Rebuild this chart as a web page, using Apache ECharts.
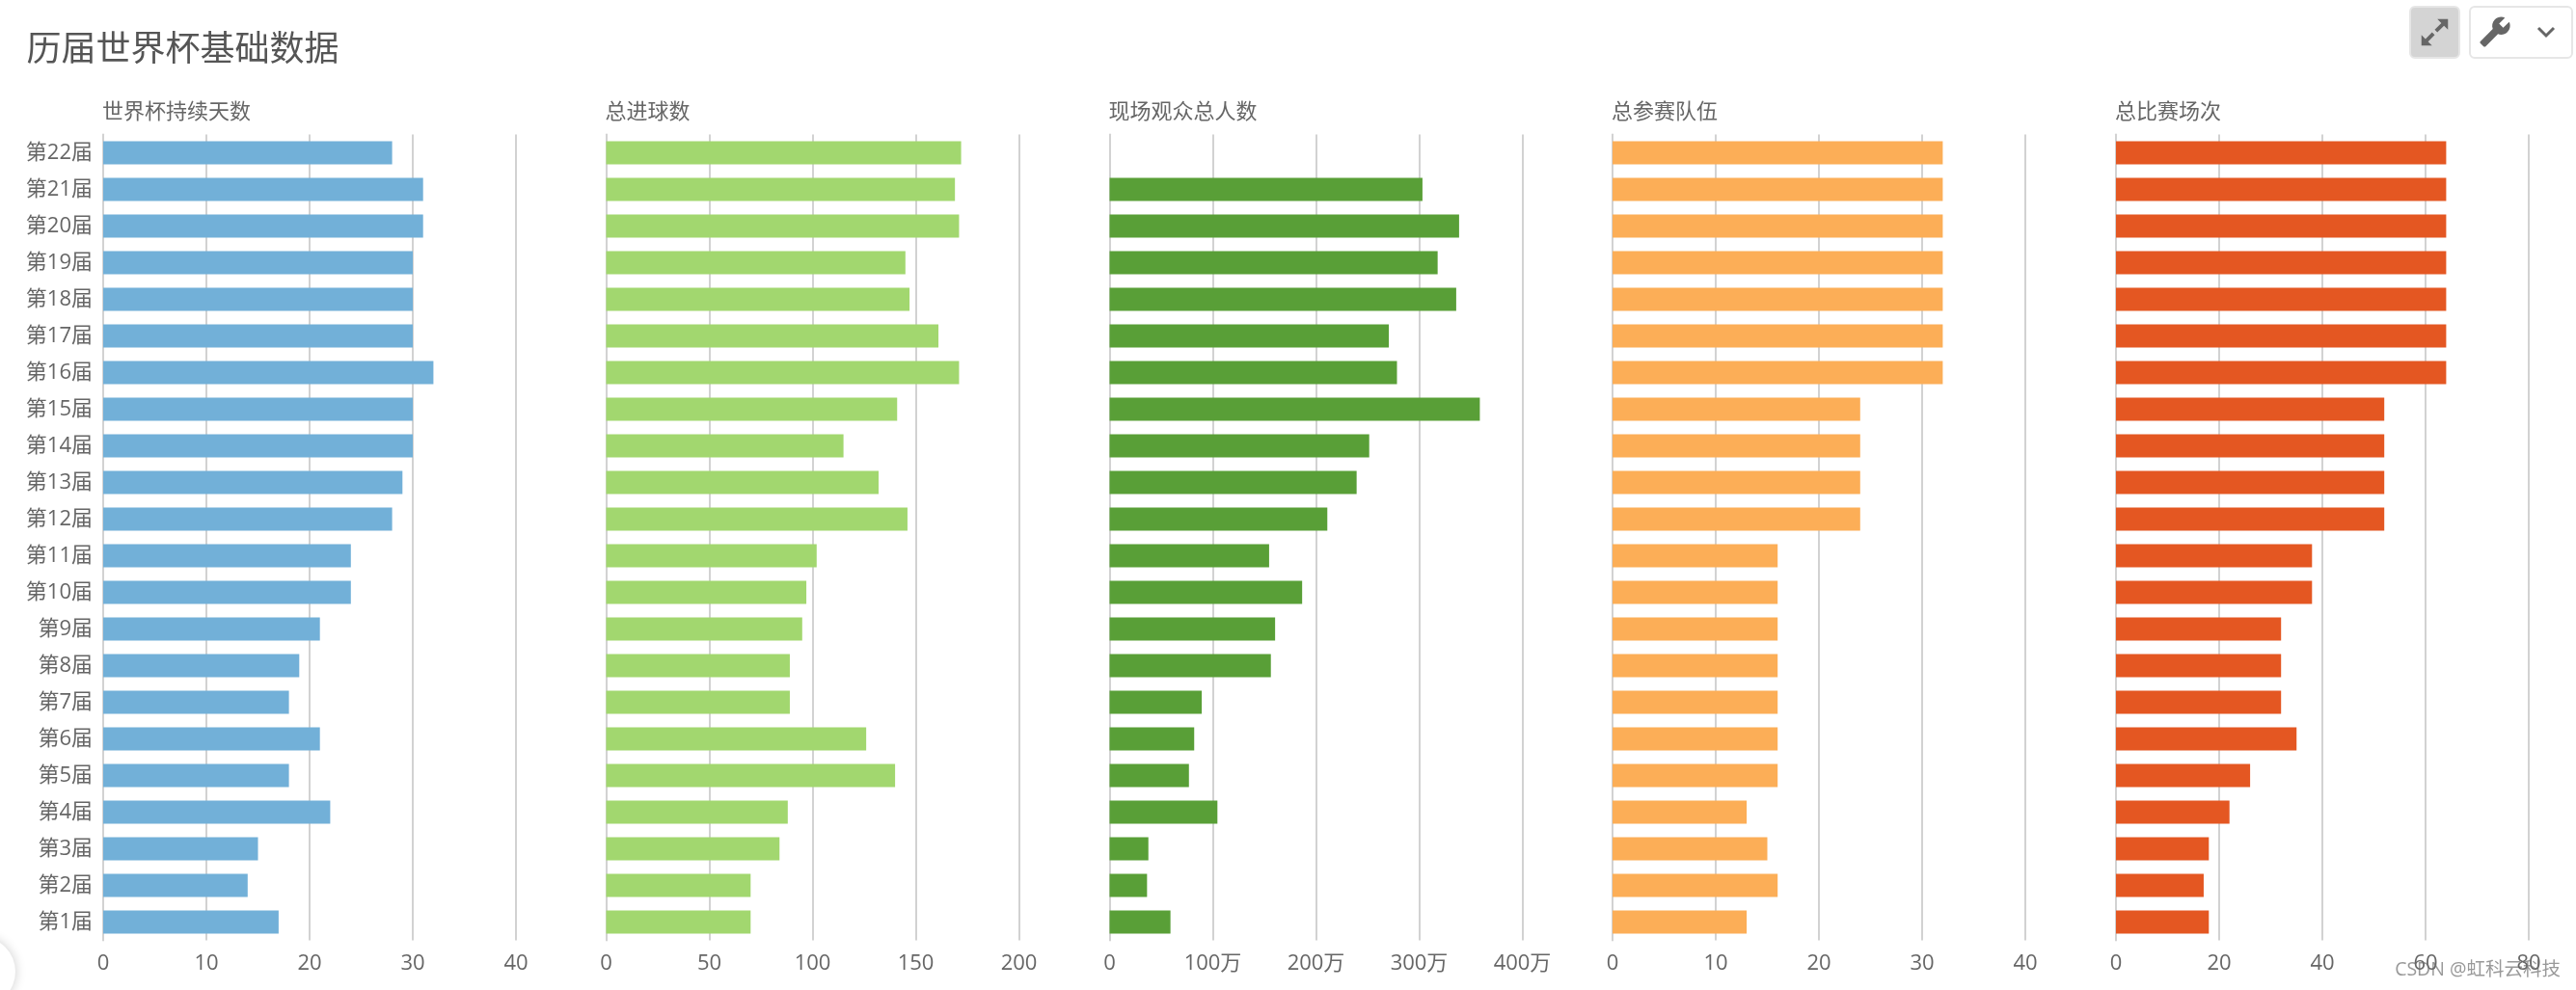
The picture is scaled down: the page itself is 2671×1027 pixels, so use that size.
<html>
<head>
    <meta charset="utf-8">
    <title>历届世界杯基础数据</title>
    <script src="https://cdn.jsdelivr.net/npm/echarts@6/dist/echarts.min.js"></script>
    <style>
        body { margin: 0; background: #fff; }
        .btn { position: absolute; top: 6px; height: 51px; box-sizing: content-box; border: 2px solid #e6e6e6; border-radius: 6px; }
        .btn svg { position: absolute; fill: #666; }
    </style>
</head>
<body>
<div style="width: 2671px; height: 1027px;" id="main"></div>
<!-- 右上角按钮 -->
<div class="btn" style="left: 2498px; width: 49px; background: #d4d4d4;">
    <svg style="left: 8px; top: 9px;" width="33" height="33" viewBox="0 0 24 24"><path d="M14 2h8v8l-3-3-5 5-2-2 5-5zM10 22H2v-8l3 3 5-5 2 2-5 5z"/></svg>
</div>
<div class="btn" style="left: 2560px; width: 104px; background: #fff;">
    <svg style="left: 8px; top: 8px; transform: scaleX(-1);" width="34" height="34" viewBox="0 0 24 24"><path d="M22.7 19l-9.1-9.1c.9-2.3.4-5-1.5-6.9-2-2-5-2.4-7.4-1.3L9 6 6 9 1.6 4.7C.4 7.1.9 10.1 2.9 12.1c1.9 1.9 4.6 2.4 6.9 1.5l9.1 9.1c.4.4 1 .4 1.4 0l2.3-2.3c.5-.4.5-1.1.1-1.4z"/></svg>
    <svg style="left: 68px; top: 19px; fill: none; stroke: #666; stroke-width: 3;" width="20" height="14" viewBox="0 0 20 14"><path d="M2 2l8 8 8-8"/></svg>
</div>
<script type="text/javascript">
// 数据,从第1届到第22届
var editions = ['第1届', '第2届', '第3届', '第4届', '第5届', '第6届', '第7届', '第8届', '第9届', '第10届', '第11届',
    '第12届', '第13届', '第14届', '第15届', '第16届', '第17届', '第18届', '第19届', '第20届', '第21届', '第22届'];
var days = [17, 14, 15, 22, 18, 21, 18, 19, 21, 24, 24, 28, 29, 30, 30, 32, 30, 30, 30, 31, 31, 28];
var goals = [70, 70, 84, 88, 140, 126, 89, 89, 95, 97, 102, 146, 132, 115, 141, 171, 161, 147, 145, 171, 169, 172];
var audience = [590000, 363000, 376000, 1045000, 769000, 820000, 893000, 1563000, 1604000, 1866000, 1546000,
    2110000, 2394000, 2516000, 3588000, 2785000, 2706000, 3359000, 3179000, 3387000, 3032000, null];
var teams = [13, 16, 15, 13, 16, 16, 16, 16, 16, 16, 16, 24, 24, 24, 24, 32, 32, 32, 32, 32, 32, 32];
var matches = [18, 17, 18, 22, 26, 35, 32, 32, 32, 38, 38, 52, 52, 52, 52, 64, 64, 64, 64, 64, 64, 64];

var panelNames = ['世界杯持续天数', '总进球数', '现场观众总人数', '总参赛队伍', '总比赛场次'];
var panelValues = [days, goals, audience, teams, matches];
var panelMax = [40, 200, 4000000, 40, 80];
var panelInterval = [10, 50, 1000000, 10, 20];
var panelColors = ['#72b0d8', '#a2d76f', '#599f37', '#fcae57', '#e45722'];
var panelLefts = [107, 628.5, 1150.5, 1672, 2194];

var font = '"Open Sans", "Noto Sans CJK SC", sans-serif';
var gridWidth = 428, gridTop = 139.5, gridHeight = 836;

var myChart = echarts.init(document.getElementById('main'));

var titles = [{
    text: '历届世界杯基础数据',
    left: 22.5, top: 30,
    textStyle: { fontFamily: font, fontSize: 36, fontWeight: 'normal', color: '#555' }
}];
var grids = [], xAxes = [], yAxes = [], series = [];

panelNames.forEach(function (name, i) {
    titles.push({
        text: name,
        left: panelLefts[i] - 1, top: 106, padding: 0,
        textStyle: { fontFamily: font, fontSize: 22, fontWeight: 'normal', color: '#666' }
    });
    grids.push({ left: panelLefts[i], width: gridWidth, top: gridTop, height: gridHeight });
    xAxes.push({
        type: 'value',
        gridIndex: i,
        min: 0,
        max: panelMax[i],
        interval: panelInterval[i],
        axisLine: { show: false },
        axisTick: { show: false },
        axisLabel: {
            margin: 13,
            fontFamily: font,
            fontSize: 22,
            color: '#666',
            formatter: function (v) {
                if (i === 2 && v > 0) return (v / 10000) + '万';
                return v;
            }
        },
        splitLine: { show: true, lineStyle: { color: '#d2d2d2', width: 2 } }
    });
    yAxes.push({
        type: 'category',
        gridIndex: i,
        data: editions,
        axisLine: { show: true, lineStyle: { color: '#d2d2d2', width: 2 } },
        axisTick: { show: false },
        axisLabel: {
            show: i === 0,
            margin: 11,
            interval: 0,
            fontFamily: font,
            fontSize: 22,
            color: '#666'
        }
    });
    series.push({
        type: 'bar',
        name: name,
        xAxisIndex: i,
        yAxisIndex: i,
        data: panelValues[i],
        barWidth: 24,
        itemStyle: { color: panelColors[i] }
    });
});

var option = {
    animation: false,
    backgroundColor: '#fff',
    title: titles,
    grid: grids,
    xAxis: xAxes,
    yAxis: yAxes,
    series: series,
    graphic: [
        // 左下角的圆形阴影
        { type: 'circle', shape: { cx: -20, cy: 1008, r: 36 }, style: { fill: '#fff', shadowBlur: 12, shadowColor: 'rgba(0,0,0,0.2)' } },
        // 水印
        { type: 'text', z: 100, style: { text: 'CSDN @虹科云科技', x: 2655, y: 997, align: 'right', fontFamily: font, fontSize: 19.5, fill: 'rgba(110,110,110,0.7)' } }
    ]
};

// 使用刚指定的配置项和数据显示图表。
myChart.setOption(option);
</script>
</body>
</html>
